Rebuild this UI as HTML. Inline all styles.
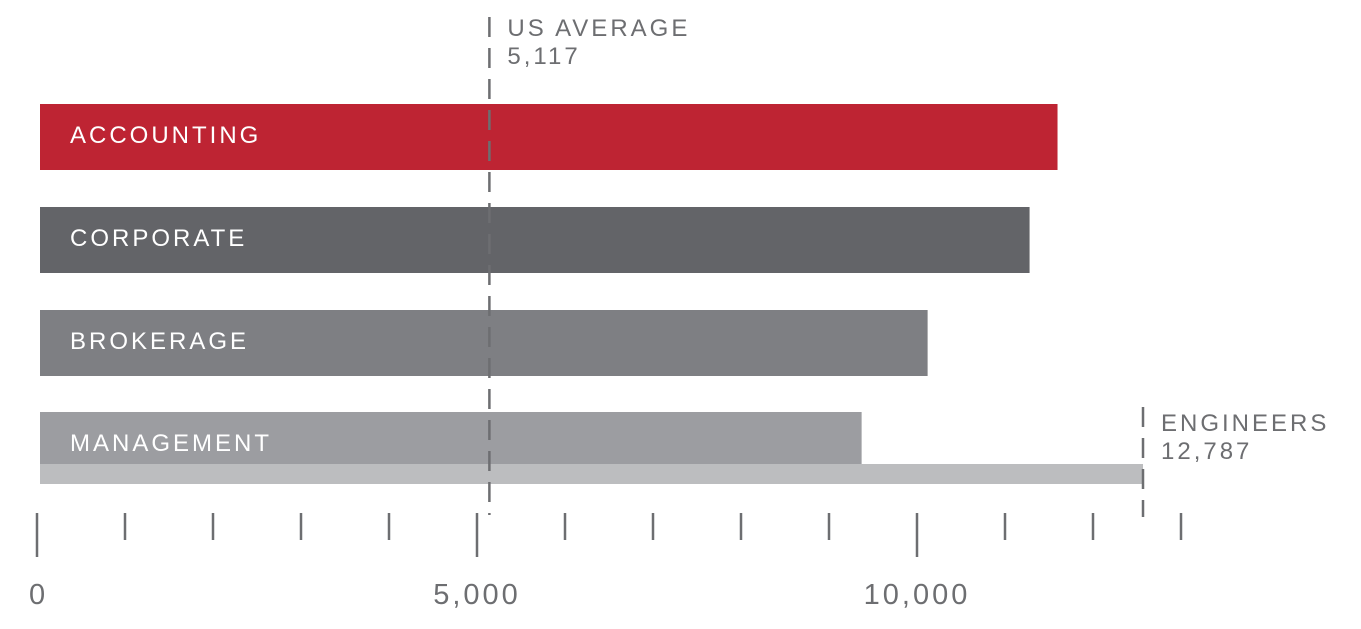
<!DOCTYPE html>
<html><head><meta charset="utf-8">
<style>
html,body{margin:0;padding:0;background:#fff;}
svg{display:block;font-family:"Liberation Sans",Arial,sans-serif;}
</style></head>
<body>
<svg id="chart" width="1361" height="629" viewBox="0 0 1361 629" xmlns="http://www.w3.org/2000/svg"></svg>
<script>
const categories = ["ACCOUNTING","CORPORATE","BROKERAGE","MANAGEMENT"];
const values = [11796, 11472, 10290, 9525];
const barColors = ["#be2433","#636468","#7e7f83","#9c9da1"];
const usAverage = 5117;
const engineers = 12787;
const tickValues = [0,1000,2000,3000,4000,5000,6000,7000,8000,9000,10000,11000,12000,13000];
const tickLabels = ["0","5,000","10,000"];
const tickLabelValues = [0,5000,10000];

const NS="http://www.w3.org/2000/svg";
const svg=document.getElementById('chart');
function mk(tag,attrs){const e=document.createElementNS(NS,tag);for(const k in attrs)e.setAttribute(k,attrs[k]);svg.appendChild(e);return e;}
const barX=v=>40+v*0.08626;
const axisX=v=>37+v*0.088;
const barTops=[104,207,310,412];
const barH=[66,66,66,52];

categories.forEach((c,i)=>{
  const r=mk('rect',{x:40,y:barTops[i],width:barX(values[i])-40,height:barH[i],fill:barColors[i]});
  
  
  const t=mk('text',{x:70,y:barTops[i]+39,fill:'#fff','font-size':24,'letter-spacing':3});
  t.textContent=c;
  
  
});
const eb=mk('rect',{x:40,y:464,width:barX(engineers)-40,height:20,fill:'#bcbdbf'});



tickValues.forEach(v=>{
  const major=v%5000===0;
  const l=mk('line',{x1:axisX(v),x2:axisX(v),y1:513,y2:major?557:540,stroke:'#6d6e71','stroke-width':2.5});
  
  
});
tickLabelValues.forEach((v,i)=>{
  const t=mk('text',{x:axisX(v),y:604,fill:'#6d6e71','font-size':29,'letter-spacing':3,'text-anchor':i===0?'start':'middle'});
  if(i===0)t.setAttribute('x',axisX(v)-8);
  t.textContent=tickLabels[i];
  
  
});

const ux=barX(usAverage)+8;
const ul=mk('line',{x1:ux,x2:ux,y1:17,y2:515,stroke:'#6d6e71','stroke-width':2.5,'stroke-dasharray':'20 11'});


const ut=mk('text',{x:ux+18,y:36,fill:'#6d6e71','font-size':24,'letter-spacing':3});
ut.textContent='US AVERAGE';


const uv=mk('text',{x:ux+18,y:64,fill:'#6d6e71','font-size':24,'letter-spacing':3});
uv.textContent=usAverage.toLocaleString('en-US');



const ex=barX(engineers);
const el=mk('line',{x1:ex,x2:ex,y1:407,y2:517,stroke:'#6d6e71','stroke-width':2.5,'stroke-dasharray':'20 11'});


const et=mk('text',{x:ex+18,y:431,fill:'#6d6e71','font-size':24,'letter-spacing':3});
et.textContent='ENGINEERS';


const ev=mk('text',{x:ex+18,y:459,fill:'#6d6e71','font-size':24,'letter-spacing':3});
ev.textContent=engineers.toLocaleString('en-US');


</script>
</body></html>
